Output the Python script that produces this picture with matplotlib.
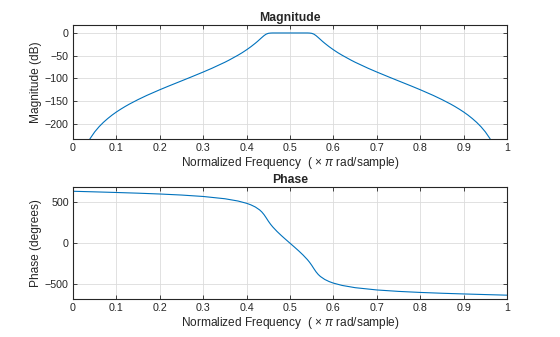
import matplotlib
matplotlib.use('Agg')
import matplotlib.pyplot as plt

plt.rcParams['font.family'] = ['Liberation Sans', 'DejaVu Sans']
plt.rcParams['mathtext.fontset'] = 'custom'
plt.rcParams['mathtext.it'] = 'Liberation Sans:italic'
plt.rcParams['mathtext.rm'] = 'Liberation Sans'

# magnitude response (normalized freq, dB)
mag_freq = [0.03, 0.035, 0.04, 0.05, 0.06, 0.07, 0.08, 0.09, 0.1, 0.11, 0.12,
            0.13, 0.15, 0.17, 0.2, 0.22, 0.25, 0.27, 0.3, 0.32, 0.35, 0.36,
            0.38, 0.39, 0.4, 0.41, 0.42, 0.425, 0.43, 0.435, 0.44, 0.445,
            0.45, 0.455, 0.46, 0.5,
            0.54, 0.545, 0.55, 0.555, 0.56, 0.565, 0.57, 0.575, 0.58, 0.59,
            0.6, 0.61, 0.62, 0.64, 0.65, 0.68, 0.7, 0.73, 0.75, 0.78, 0.8,
            0.83, 0.85, 0.87, 0.88, 0.89, 0.9, 0.91, 0.92, 0.93, 0.94, 0.95,
            0.96, 0.965, 0.97]
mag_db = [-248.7, -239.3, -231.1, -217.3, -206.0, -196.4, -188.0, -180.4,
          -173.6, -167.4, -161.6, -156.2, -146.3, -137.2, -124.7, -116.8,
          -105.3, -97.6, -85.8, -77.6, -64.3, -59.4, -48.9, -43.2, -36.9,
          -30.1, -22.6, -18.6, -14.3, -10.0, -5.9, -2.6, -0.8, -0.2, 0.0, 0.0,
          0.0, -0.2, -0.8, -2.6, -5.9, -10.0, -14.3, -18.6, -22.6, -30.1,
          -36.9, -43.2, -48.9, -59.4, -64.3, -77.6, -85.8, -97.6, -105.3,
          -116.8, -124.7, -137.2, -146.3, -156.2, -161.6, -167.4, -173.6,
          -180.4, -188.0, -196.4, -206.0, -217.3, -231.1, -239.3, -248.7]

# phase response (normalized freq, degrees)
ph_freq = [0.0, 0.05, 0.1, 0.15, 0.2, 0.25, 0.3, 0.35, 0.38, 0.4, 0.41, 0.42,
           0.43, 0.435, 0.44, 0.445, 0.45, 0.455, 0.46, 0.47, 0.48, 0.49, 0.5,
           0.51, 0.52, 0.53, 0.54, 0.545, 0.55, 0.555, 0.56, 0.565, 0.57,
           0.58, 0.59, 0.6, 0.62, 0.65, 0.7, 0.75, 0.8, 0.85, 0.9, 0.95, 1.0]
ph_deg = [630.0, 622.8, 615.2, 606.8, 596.8, 584.2, 566.8, 539.2, 511.9,
          484.0, 464.8, 439.4, 403.6, 379.0, 347.4, 308.8, 268.0, 231.0,
          198.7, 142.9, 92.9, 45.9, 0.0,
          -45.9, -92.9, -142.9, -198.7, -231.0, -268.0, -308.8, -347.4,
          -379.0, -403.6, -439.4, -464.8, -484.0, -511.9, -539.2, -566.8,
          -584.2, -596.8, -606.8, -615.2, -622.8, -630.0]

xticks = [0, 0.1, 0.2, 0.3, 0.4, 0.5, 0.6, 0.7, 0.8, 0.9, 1]
xticklabels = ['0', '0.1', '0.2', '0.3', '0.4', '0.5', '0.6', '0.7', '0.8', '0.9', '1']

line_color = '#0072BD'
axis_color = '#262626'
xlab = 'Normalized Frequency  ( \u00d7 $\\it{\\pi}$ rad/sample)'

fig = plt.figure(figsize=(5.6, 3.37), dpi=100)
ax1 = fig.add_axes([0.1304, 0.5875, 0.775, 0.3383])
ax2 = fig.add_axes([0.1304, 0.1119, 0.775, 0.334])


def style(ax):
    ax.set_xlim(0, 1)
    ax.set_xticks(xticks)
    ax.set_xticklabels(xticklabels)
    ax.grid(True, color='#dcdcdc', linewidth=0.6)
    ax.set_axisbelow(True)
    ax.tick_params(direction='in', length=3, width=0.6, colors=axis_color,
                   labelsize=7.7, top=True, right=True, pad=3)
    for s in ax.spines.values():
        s.set_color(axis_color)
        s.set_linewidth(0.8)
    ax.set_xlabel(xlab, fontsize=8.6, color=axis_color, labelpad=1)


ax1.plot(mag_freq, mag_db, color=line_color, linewidth=0.8)
style(ax1)
ax1.set_ylim(-233, 17.5)
ax1.set_yticks([-200, -150, -100, -50, 0])
ax1.set_ylabel('Magnitude (dB)', fontsize=8.6, color=axis_color, labelpad=2)
ax1.set_title('Magnitude', fontsize=8.8, fontweight='bold', color=axis_color, pad=3)

ax2.plot(ph_freq, ph_deg, color=line_color, linewidth=0.8)
style(ax2)
ax2.set_ylim(-680, 685)
ax2.set_yticks([-500, 0, 500])
ax2.set_ylabel('Phase (degrees)', fontsize=8.6, color=axis_color, labelpad=2)
ax2.set_title('Phase', fontsize=8.8, fontweight='bold', color=axis_color, pad=3)

fig.savefig('out.png', dpi=100)
